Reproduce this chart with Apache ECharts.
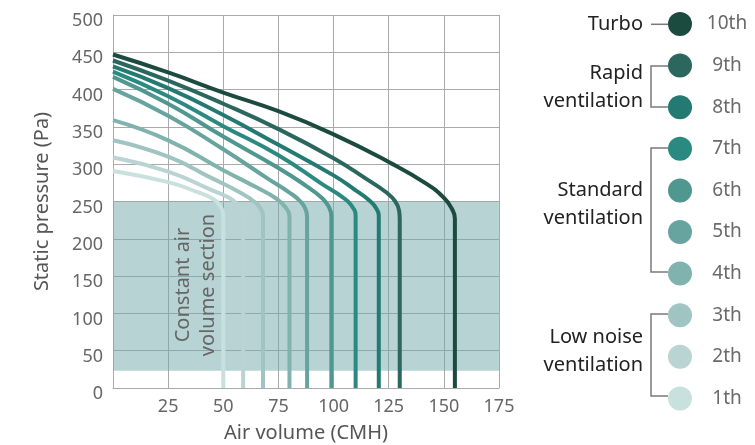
<!DOCTYPE html>
<html>
<head>
<meta charset="utf-8">
<script src="https://cdn.jsdelivr.net/npm/echarts@6/dist/echarts.min.js"></script>
<style>html,body{margin:0;padding:0;background:#fff;overflow:hidden}#c{width:755px;height:445px}</style>
</head>
<body>
<div id="c"></div>
<script>
// ---- data (air volume CMH, static pressure Pa) ----
const xTicks = [0, 25, 50, 75, 100, 125, 150, 175];
const yTicks = [0, 50, 100, 150, 200, 250, 300, 350, 400, 450, 500];
const seriesNames = ['10th', '9th', '8th', '7th', '6th', '5th', '4th', '3th', '2th', '1th'];
const curve10 = [[0,447],[25,423],[50,396],[75,371],[100,340],[125,303],[142,274],[150,255],[153.5,241],[155,227],[155,0]];
const curve9  = [[0,439],[25,412],[50,381],[75,347],[100,308],[115,280],[124,262],[128,250],[129.7,238],[130,226],[130,0]];
const curve8  = [[0,431],[25,402],[50,366],[75,326],[100,285],[110,265],[116,252],[119.5,240],[120.5,228],[120.5,0]];
const curve7  = [[0,424],[25,391],[50,351],[75,312],[95,273],[104,256],[108,245],[110,230],[110,0]];
const curve6  = [[0,417],[25,381],[50,337],[75,295],[88,270],[95,254],[98,242],[99,230],[99,0]];
const curve5  = [[0,401],[25,365],[50,320],[70,281],[80,262],[85,250],[87.5,238],[88,228],[88,0]];
const curve4  = [[0,359],[25,332],[50,292],[65,269],[74,254],[78,243],[80,230],[80,0]];
const curve3  = [[0,332],[25,310],[45,281],[57,263],[64,250],[67,240],[68,228],[68,0]];
const curve2  = [[0,309],[25,290],[45,265],[52,256],[56.5,246],[59,232],[59,0]];
const curve1  = [[0,291],[25,276],[38,263],[45,254],[48.5,244],[50,232],[50,0]];
const curves = [curve10, curve9, curve8, curve7, curve6, curve5, curve4, curve3, curve2, curve1];
const constantSection = [23, 250];
const colors = ['#1b4a3f', '#2b675e', '#237a72', '#2a8a82', '#4f978f', '#67a39f', '#80b3ae', '#9fc4c1', '#bad3d3', '#c9e1de'];

const FONT = 'Noto Sans';
const chart = echarts.init(document.getElementById('c'), null, {renderer: 'canvas', width: 755, height: 445});

const lineSeries = curves.map((d, i) => ({
  name: seriesNames[i],
  type: 'line',
  data: d,
  smooth: 0.5,
  symbol: 'none',
  z: 3,
  lineStyle: {width: 4, color: colors[i], cap: 'butt', join: 'round'},
  itemStyle: {color: colors[i]}
}));

const bracketStyle = {stroke: '#7a7a7a', lineWidth: 1.5, fill: null};
const groupText = (x, y, text) => ({
  type: 'text', x: x, y: y, z: 10,
  style: {text: text, fill: '#222', font: '20px "' + FONT + '"', align: 'right', verticalAlign: 'middle', lineHeight: 28}
});

chart.setOption({
  animation: false,
  textStyle: {fontFamily: FONT},
  grid: {left: 113, top: 15, width: 386, height: 373, containLabel: false, outerBoundsMode: 'none'},
  xAxis: {
    type: 'value', min: 0, max: 175, interval: 25,
    name: 'Air volume (CMH)', nameLocation: 'middle', nameGap: 35,
    nameTextStyle: {fontSize: 20, color: '#555', fontFamily: FONT},
    axisLine: {lineStyle: {color: '#aaa', width: 1}},
    axisTick: {show: false},
    splitLine: {show: true, lineStyle: {color: '#aaa', width: 1}},
    axisLabel: {fontSize: 18, color: '#666', margin: 10, fontFamily: FONT,
      formatter: v => (v === 0 ? '' : (xTicks.indexOf(v) >= 0 ? String(v) : ''))}
  },
  yAxis: {
    type: 'value', min: 0, max: 500, interval: 50,
    name: 'Static pressure (Pa)', nameLocation: 'middle', nameGap: 61, nameRotate: 90,
    nameTextStyle: {fontSize: 20, color: '#555', fontFamily: FONT},
    axisLine: {show: true, lineStyle: {color: '#aaa', width: 1}},
    axisTick: {show: false},
    splitLine: {show: true, lineStyle: {color: '#aaa', width: 1}},
    axisLabel: {fontSize: 18, color: '#666', margin: 10, fontFamily: FONT,
      formatter: v => (yTicks.indexOf(v) >= 0 ? '{a|' + v + '}' : ''),
      rich: {a: {fontSize: 18, color: '#666', fontFamily: FONT, padding: [12, 0, 0, 0]}}}
  },
  legend: {
    orient: 'vertical', left: 668, top: 12, padding: 0,
    data: seriesNames,
    icon: 'circle', itemWidth: 24, itemHeight: 24, itemGap: 17.6,
    selectedMode: false,
    formatter: n => '{s| }{a|' + n + '}',
    textStyle: {color: '#6a6a6a', fontSize: 19, fontFamily: FONT, lineHeight: 24,
      rich: {
        s: {width: 10, fontSize: 19, lineHeight: 24},
        a: {width: 40, align: 'center', fontSize: 19, color: '#6a6a6a', fontFamily: FONT, lineHeight: 24}
      }}
  },
  series: [
    {
      name: 'constant', type: 'line', data: [], z: 1, silent: true,
      markArea: {
        silent: true,
        itemStyle: {color: 'rgba(113,167,167,0.5)'},
        data: [[{xAxis: 0, yAxis: constantSection[0]}, {xAxis: 175, yAxis: constantSection[1]}]]
      }
    }
  ].concat(lineSeries),
  graphic: [
    {type: 'text', x: 196, y: 285, rotation: Math.PI / 2, z: 10,
      style: {text: 'Constant air\nvolume section', fill: '#666', font: '20px "' + FONT + '"', align: 'center', verticalAlign: 'middle', lineHeight: 25}},
    {type: 'polyline', z: 10, shape: {points: [[651, 24.3], [668, 24.3]]}, style: bracketStyle},
    {type: 'polyline', z: 10, shape: {points: [[668, 66], [651, 66], [651, 107], [668, 107]]}, style: bracketStyle},
    {type: 'polyline', z: 10, shape: {points: [[668, 148], [651, 148], [651, 272], [668, 272]]}, style: bracketStyle},
    {type: 'polyline', z: 10, shape: {points: [[668, 314], [651, 314], [651, 396], [668, 396]]}, style: bracketStyle},
    groupText(643, 24.3, 'Turbo'),
    groupText(643, 87, 'Rapid\nventilation'),
    groupText(643, 204, 'Standard\nventilation'),
    groupText(643, 351, 'Low noise\nventilation')
  ]
});
</script>
</body>
</html>
